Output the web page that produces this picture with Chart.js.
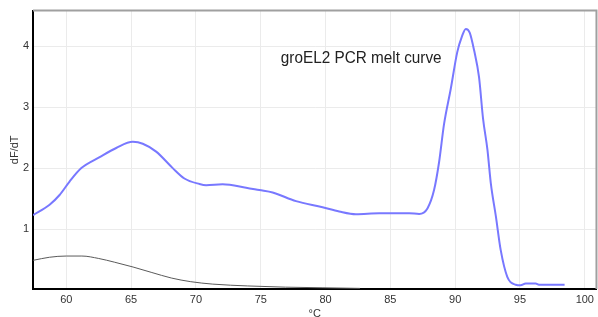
<!DOCTYPE html>
<html>
<head>
<meta charset="utf-8">
<script src="https://cdn.jsdelivr.net/npm/chart.js@4/dist/chart.umd.min.js"></script>
<style>
  html, body { margin: 0; padding: 0; background: #fff; }
  #wrap { width: 598px; height: 317px; }
</style>
</head>
<body>
<div id="wrap"><canvas id="meltChart" width="598" height="317"></canvas></div>
<script>
// melt curve values (temperature in °C, dF/dT)
const sampleTemps = [57.43, 58.71, 59.48, 60.25, 61.16, 62.57, 63.85, 65.13, 65.9, 66.93, 68.21, 69.11, 70.27, 70.79, 72.06, 73.87, 74.89, 75.92, 77.72, 79.77, 81.05, 82.34, 84.14, 86.45, 87.22, 87.86, 88.37, 88.76, 89.14, 89.66, 90.16, 90.51, 90.82, 91.12, 91.46, 91.84, 92.15, 92.49, 92.75, 93.14, 93.51, 94.02, 94.67, 95.05, 95.44, 96.21, 96.46, 98.44];
const sampleValues = [1.23, 1.40, 1.56, 1.78, 2.0, 2.18, 2.33, 2.43, 2.40, 2.27, 2.0, 1.83, 1.74, 1.72, 1.735, 1.68, 1.64, 1.60, 1.46, 1.36, 1.29, 1.245, 1.26, 1.26, 1.25, 1.34, 1.64, 2.10, 2.72, 3.30, 3.90, 4.15, 4.28, 4.22, 3.93, 3.49, 2.81, 2.30, 1.75, 1.21, 0.66, 0.22, 0.09, 0.08, 0.11, 0.11, 0.09, 0.09];

// the faint control trace
const controlTemps = [57.45, 58.7, 60.0, 61.2, 62.5, 63.7, 65.15, 66.6, 68.1, 69.6, 71.3, 74.0, 76.9, 79.8, 82.65];
const controlValues = [0.49, 0.54, 0.56, 0.56, 0.52, 0.46, 0.38, 0.29, 0.2, 0.14, 0.1, 0.07, 0.05, 0.04, 0.03];

const xTicks = [60, 65, 70, 75, 80, 85, 90, 95, 100];
const yTicks = [1, 2, 3, 4];
const chartTitle = 'groEL2 PCR melt curve';

function toPoints(xs, ys) {
    return xs.map((x, i) => ({ x: x, y: ys[i] }));
}

// draws the grey top/right frame and the title inside the plot
const framePlugin = {
    id: 'frame',
    afterDraw(chart) {
        const { ctx, chartArea } = chart;
        ctx.save();
        ctx.strokeStyle = '#a0a0a0';
        ctx.lineWidth = 2;
        ctx.beginPath();
        ctx.moveTo(chartArea.left, chartArea.top);
        ctx.lineTo(chartArea.right, chartArea.top);
        ctx.lineTo(chartArea.right, chartArea.bottom);
        ctx.stroke();

        const xs = chart.scales.x, ys = chart.scales.y;
        const tx = xs.getPixelForValue(82.75);
        const ty = ys.getPixelForValue(3.8);
        ctx.translate(tx, ty);
        ctx.scale(0.9, 1);
        ctx.fillStyle = '#222';
        ctx.font = '17px "Liberation Sans", Arial, sans-serif';
        ctx.textAlign = 'center';
        ctx.textBaseline = 'middle';
        ctx.fillText(chartTitle, 0, 0);
        ctx.restore();
    }
};

const ctx = document.getElementById('meltChart').getContext('2d');
const chart = new Chart(ctx, {
    type: 'line',
    data: {
        datasets: [{
            data: toPoints(controlTemps, controlValues),
            borderColor: '#5a5a5a',
            borderWidth: 1,
            pointRadius: 0,
            cubicInterpolationMode: 'monotone',
            fill: false
        }, {
            data: toPoints(sampleTemps, sampleValues),
            borderColor: '#7878ff',
            borderWidth: 2,
            pointRadius: 0,
            cubicInterpolationMode: 'monotone',
            fill: false
        }]
    },
    options: {
        responsive: false,
        animation: false,
        layout: { padding: { top: 10, right: 1, left: 0, bottom: 0 } },
        plugins: { legend: { display: false }, tooltip: { enabled: false } },
        scales: {
            x: {
                type: 'linear',
                min: 57.43,
                max: 100.9,
                afterBuildTicks: axis => { axis.ticks = xTicks.map(v => ({ value: v })); },
                afterFit: axis => { axis.height = 28; },
                grid: { color: '#ebebeb', drawTicks: false },
                border: { color: '#000', width: 2 },
                ticks: {
                    padding: 4,
                    color: '#333',
                    font: { family: '"Liberation Sans", Arial, sans-serif', size: 11 },
                    maxRotation: 0
                },
                title: {
                    display: true,
                    text: '°C',
                    color: '#333',
                    padding: 0,
                    font: { family: '"Liberation Sans", Arial, sans-serif', size: 11, lineHeight: 0.6 }
                }
            },
            y: {
                min: 0.02,
                max: 4.58,
                afterBuildTicks: axis => { axis.ticks = yTicks.map(v => ({ value: v })); },
                afterFit: axis => { axis.width = 33; },
                grid: { color: '#ebebeb', drawTicks: false },
                border: { color: '#000', width: 2 },
                ticks: {
                    padding: 4,
                    color: '#333',
                    font: { family: '"Liberation Sans", Arial, sans-serif', size: 11 }
                },
                title: {
                    display: true,
                    text: 'dF/dT',
                    color: '#333',
                    padding: { top: 8, bottom: 0 },
                    font: { family: '"Liberation Sans", Arial, sans-serif', size: 11 }
                }
            }
        }
    },
    plugins: [framePlugin]
});
</script>
</body>
</html>
